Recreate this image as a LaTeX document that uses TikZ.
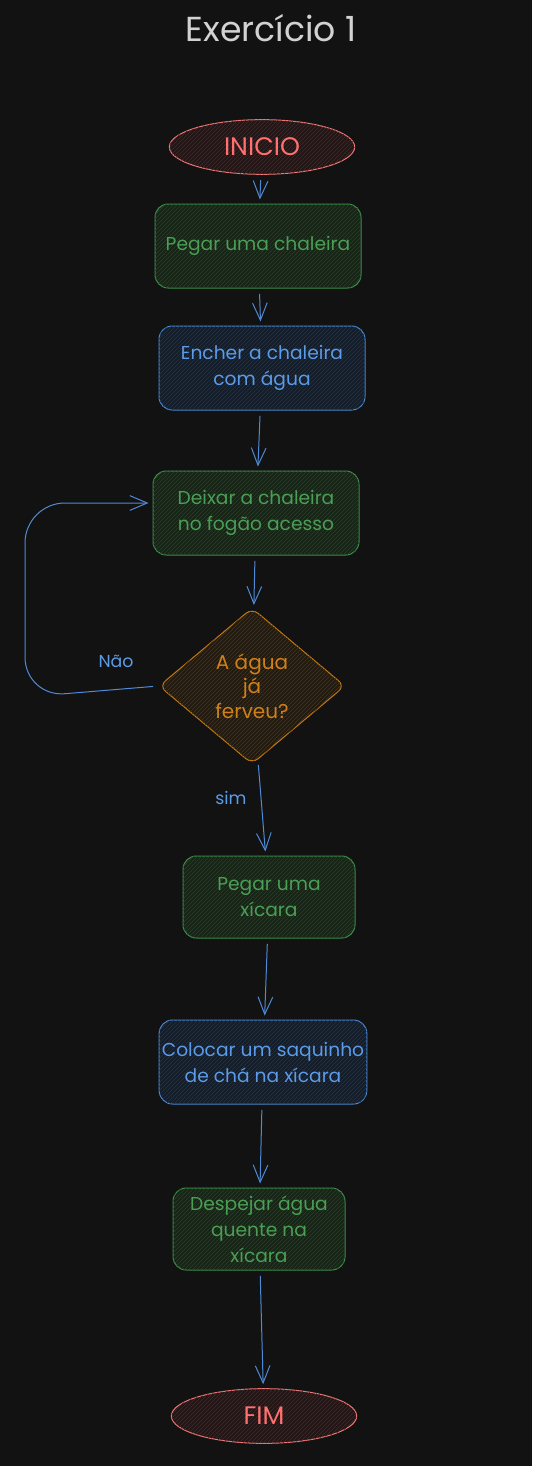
\documentclass[tikz,border=0pt]{standalone}
\usepackage{fontspec}
\setmainfont{Poppins}
\usepackage{tikz}
\usetikzlibrary{arrows.meta, shapes, patterns, positioning}
\definecolor{bg}{HTML}{121212}
\definecolor{titlegray}{HTML}{D2D2D2}
\definecolor{arrowblue}{HTML}{4F8AD6}
\definecolor{grnline}{HTML}{3C8F4A}
\definecolor{grnfill}{HTML}{172417}
\definecolor{grnhatch}{HTML}{24432A}
\definecolor{grntext}{HTML}{4A9F55}
\definecolor{bluline}{HTML}{4A88D0}
\definecolor{blufill}{HTML}{151D28}
\definecolor{bluhatch}{HTML}{1F3552}
\definecolor{blutext}{HTML}{5B9BE8}
\definecolor{redline}{HTML}{F07878}
\definecolor{redfill}{HTML}{221616}
\definecolor{redhatch}{HTML}{4A2828}
\definecolor{redtext}{HTML}{FF7070}
\definecolor{orgline}{HTML}{C47A15}
\definecolor{orgfill}{HTML}{211A10}
\definecolor{orghatch}{HTML}{4A3614}
\definecolor{orgtext}{HTML}{D0801A}
\tikzstyle{process} = [rectangle, rounded corners=10pt, line width=0.75pt, align=center,
                       minimum width=154.5pt, minimum height=63pt, inner sep=2pt,
                       font=\fontsize{14}{19.5}\selectfont]
\tikzstyle{greenbox} = [process, draw=grnline, fill=grnfill, text=grntext,
                        postaction={pattern=north east lines, pattern color=grnhatch}]
\tikzstyle{bluebox} = [process, draw=bluline, fill=blufill, text=blutext,
                       postaction={pattern=north east lines, pattern color=bluhatch}]
\tikzstyle{terminal} = [ellipse, line width=0.75pt, draw=redline, fill=redfill, text=redtext,
                        minimum width=139pt, minimum height=41pt, inner sep=0pt,
                        font=\fontsize{19}{22}\selectfont,
                        postaction={pattern=north east lines, pattern color=redhatch}]
\tikzstyle{decision} = [diamond, aspect=1.2, rounded corners=6pt, line width=0.75pt,
                        draw=orgline, fill=orgfill, text=orgtext, align=center,
                        minimum width=139.5pt, minimum height=117pt, inner sep=0pt,
                        font=\fontsize{15}{18.4}\selectfont,
                        postaction={pattern=north east lines, pattern color=orghatch}]
\tikzstyle{link} = [draw=arrowblue, line width=0.75pt, shorten <=4pt, shorten >=3pt,
                    -{Straight Barb[length=13pt, width=11pt]}]
\tikzstyle{tag} = [text=blutext, font=\fontsize{13}{15}\selectfont]

\begin{document}
\begin{tikzpicture}[x=0.75pt, y=-0.75pt]
	\useasboundingbox (0, 0) rectangle (532, 1466);
	\fill[bg] (0, 0) rectangle (532, 1466);

	\node (Title) [text=titlegray, font=\fontsize{26}{30}\selectfont] at (271, 28) {Exercício 1};

	\node (Start) [terminal] at (262, 147) {INICIO};

	\node (Kettle) [greenbox] at (258, 246) {Pegar uma chaleira};
	\draw[link] (Start) -- (Kettle);

	\node (Water) [bluebox] at (262, 368) {Encher a chaleira\\com água};
	\draw[link] (Kettle) -- (Water);

	\node (Stove) [greenbox] at (256, 513) {Deixar a chaleira\\no fogão acesso};
	\draw[link] (Water) -- (Stove);

	\node (Ask) [decision] at (252, 686) {A água\\já\\ferveu?};
	\draw[link] (Stove) -- (Ask);

	% not boiling yet
	\coordinate (LoopLow) at (25, 697);
	\coordinate (LoopHigh) at (25, 503);
	\draw[link, rounded corners=30pt] (Ask.west) -- (LoopLow) -- (LoopHigh) -- (Stove.west |- LoopHigh);
	\node (No) [tag] at (116, 661) {Não};

	% boiling
	\node (Cup) [greenbox, minimum width=129pt, minimum height=61.5pt] at (269, 897) {Pegar uma\\xícara};
	\draw[link] (Ask) -- (Cup);
	\node (Yes) [tag] at (231, 798) {sim};

	\node (Bag) [bluebox] at (263, 1062) {Colocar um saquinho\\de chá na xícara};
	\draw[link] (Cup) -- (Bag);

	\node (Pour) [greenbox, minimum width=129pt, minimum height=61.5pt] at (259, 1229) {Despejar água\\quente na\\xícara};
	\draw[link] (Bag) -- (Pour);

	\node (End) [terminal] at (264, 1416) {FIM};
	\draw[link] (Pour) -- (End);
\end{tikzpicture}
\end{document}
